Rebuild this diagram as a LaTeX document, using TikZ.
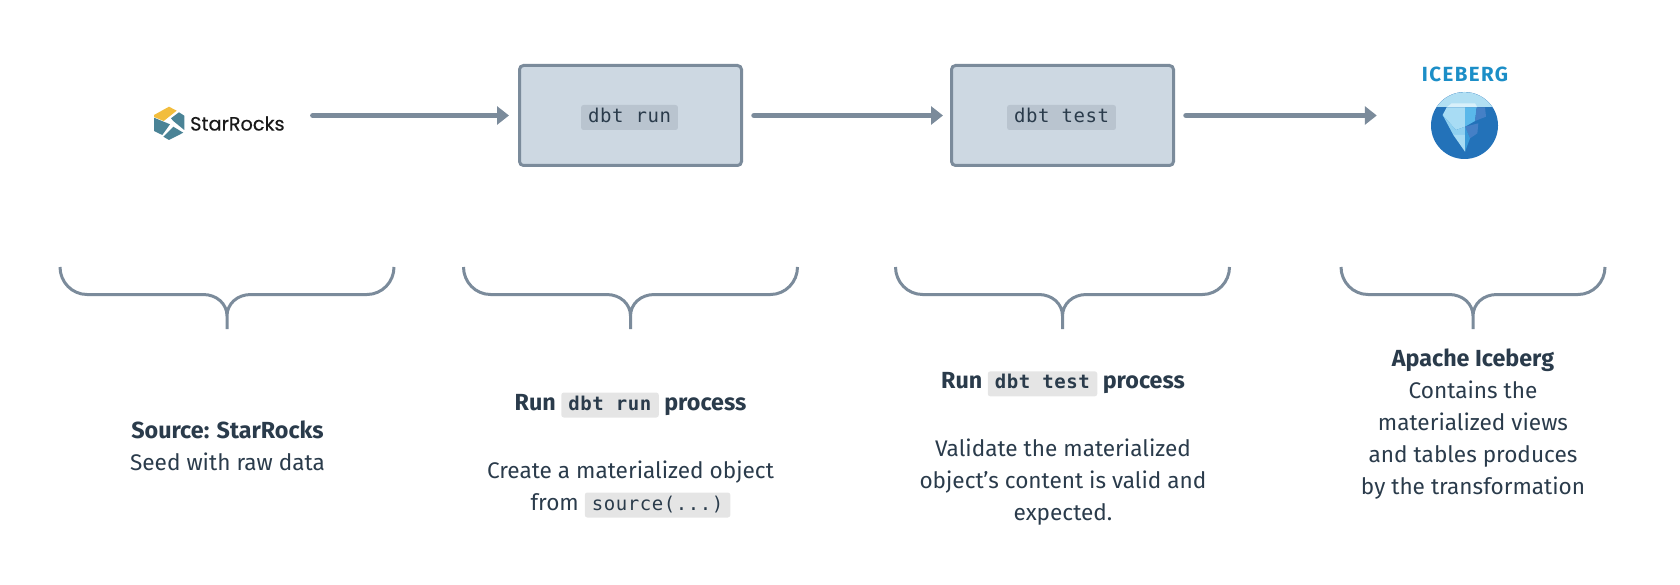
\documentclass[tikz,border=0pt]{standalone}
\usepackage{fontspec}
\setmainfont{Fira Sans}
\setmonofont[LetterSpace=3]{DejaVu Sans Mono}
\newfontfamily\logofont[FakeBold=0.4]{Poppins}
\newfontfamily\icefont[LetterSpace=7]{Fira Sans}
\usetikzlibrary{arrows.meta,positioning}
\definecolor{slate}{HTML}{7B8B9B}
\definecolor{boxfill}{HTML}{CDD8E2}
\definecolor{ink}{HTML}{2A3B4B}
\definecolor{chipgrey}{HTML}{E5E5E5}
\definecolor{chipslate}{HTML}{B9C4CF}
\definecolor{berg}{HTML}{2372B9}
\definecolor{bergsky}{HTML}{B1DFF3}
\definecolor{bergtop}{HTML}{D8F0FA}
\definecolor{bergpale}{HTML}{A8DCF4}
\definecolor{bergmid}{HTML}{8FD0F0}
\definecolor{bergside}{HTML}{5AB8EA}
\definecolor{bergdeep}{HTML}{4580C6}
\definecolor{bergtip}{HTML}{3A9AD8}
\definecolor{rocksteal}{HTML}{4A8396}
\definecolor{rocksgold}{HTML}{F2BD3D}
\newcommand{\codechip}[2][chipgrey]{\tikz[baseline=(c.base)]\node[chip,fill=#1] (c) {\strut\ttfamily #2};}
\newcommand{\caphead}[1]{{\fontsize{23.3}{32}\selectfont\bfseries #1}}

\begin{document}
\begin{tikzpicture}[
  x=1pt,y=-1pt,
  chip/.style={rounded corners=2.5pt,inner xsep=7pt,inner ysep=0pt,font=\fontsize{19}{25}\selectfont},
  stage/.style={draw=slate,fill=boxfill,line width=3pt,rounded corners=4pt,minimum width=222pt,minimum height=100pt},
  flow/.style={draw=slate,line width=5.5pt,line cap=round,shorten <=11pt,shorten >=9pt,-{Triangle[length=12pt,width=18pt]}},
  curly/.style={draw=slate,line width=3pt},
  caption/.style={align=center,text=ink,font=\fontsize{22.6}{32}\selectfont,inner sep=0pt}]
\useasboundingbox (0,0) rectangle (1680,585);
% top row
\node[stage] (run) at (630.5,115.5) {};
\node[stage,right=207pt of run] (test) {};
\node[text=ink,xshift=-1pt,yshift=-2pt] (runchip) at (run.center) {\codechip[chipslate]{dbt run}};
\node[text=ink,xshift=-1pt,yshift=-2pt] (testchip) at (test.center) {\codechip[chipslate]{dbt test}};
\node[inner sep=0pt,anchor=west,text=black!90,font=\logofont\fontsize{19.3}{20}\selectfont] (src) at (190,123.5) {StarRocks};
\fill[rocksteal] (154,117.7)--(170,124.3)--(162.3,135)--(154,131)--cycle;
\fill[rocksteal] (179,112.3)--(184.3,115.7)--(184.3,130)--(173.3,121)--(171,118.3)--cycle;
\fill[rocksteal] (173.3,126.7)--(183.3,132.7)--(169,140)--(163.3,136.7)--cycle;
\fill[rocksgold] (154,115)--(169,106.7)--(176.7,110.7)--(163.7,121)--(154,117)--cycle;
% iceberg logo
\node[font=\icefont\bfseries\fontsize{20.5}{20}\selectfont,text=berg!80!cyan,inner sep=0pt] (icename) at (1465,74.5) {ICEBERG};
\node[circle,fill=berg,minimum size=67pt,inner sep=0pt] (ice) at (1464.5,125.5) {};
\begin{scope}[shift={(1420,85)},x=0.3333pt,y=-0.3333pt]
\begin{scope}
\clip (133.5,121.5) circle[radius=100];
\fill[bergsky] (30,20) rectangle (240,67);
\end{scope}
\fill[bergtop] (80,67)--(95,55)--(165,55)--(172,67)--cycle;
\fill[bergpale] (80,67)--(135,67)--(135,125)--(108,135)--(68,90)--cycle;
\fill[bergmid] (68,90)--(108,135)--(135,125)--(135,150)--(100,150)--cycle;
\fill[bergpale] (100,150)--(135,150)--(135,200)--cycle;
\fill[bergside] (135,67)--(170,67)--(165,108)--(135,125)--cycle;
\fill[bergdeep] (170,67)--(195,67)--(198,95)--(165,108)--cycle;
\fill[bergdeep] (135,125)--(175,115)--(172,145)--(150,160)--cycle;
\fill[bergtip] (135,125)--(150,160)--(135,200)--cycle;
\end{scope}
% arrows
\draw[flow,shorten <=28pt] (src.east|-run.west)--(run.west);
\draw[flow,shorten >=7pt] (run.east)--(test.west);
\draw[flow,shorten >=54pt] (test.east)--(test.east-|ice.west);
% braces
\foreach \cx/\hw in {227/167,630.5/167,1062.5/167,1473/132}{
  \draw[curly] (\cx-\hw,267) .. controls (\cx-\hw,282) and (\cx-\hw+12,294.5) .. (\cx-\hw+27,294.5)
    -- (\cx-24,294.5) .. controls (\cx-10,294.5) and (\cx,304) .. (\cx,316) -- (\cx,329)
    (\cx+\hw,267) .. controls (\cx+\hw,282) and (\cx+\hw-12,294.5) .. (\cx+\hw-27,294.5)
    -- (\cx+24,294.5) .. controls (\cx+10,294.5) and (\cx,304) .. (\cx,316);
}
% captions
\node[caption] (srctext) at (227.5,446) {\caphead{Source: StarRocks}\\Seed with raw data};
\node[caption] (runtext) at (630.5,455) {\caphead{Run \codechip{\textbf{dbt run}} process}\\[36pt]Create a materialized object\\from \codechip{source(...)}};
\node[caption] (testtext) at (1063,448.5) {\caphead{Run \codechip{\textbf{dbt test}} process}\\[36pt]Validate the materialized\\object's content is valid and\\expected.};
\node[caption] (icetext) at (1473,424) {\caphead{Apache Iceberg}\\Contains the\\materialized views\\and tables produces\\by the transformation};
\end{tikzpicture}
\end{document}
